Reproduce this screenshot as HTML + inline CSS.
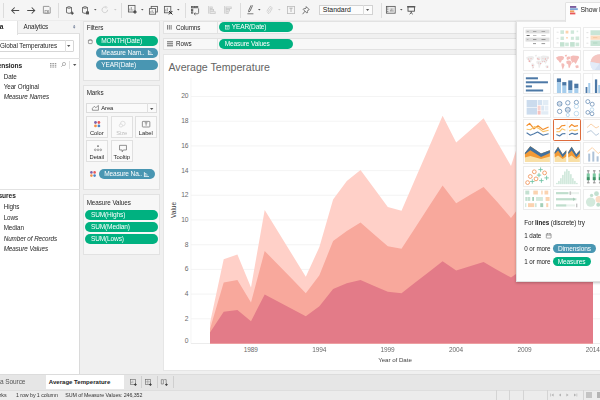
<!DOCTYPE html>
<html>
<head>
<meta charset="utf-8">
<style>
*{box-sizing:border-box;margin:0;padding:0}
html,body{width:600px;height:400px;overflow:hidden;background:#f0f0f0}
body{font-family:"Liberation Sans",sans-serif;font-size:6.3px;letter-spacing:-0.07px;color:#262626;position:relative}
.a{position:absolute}
.t{position:absolute;white-space:nowrap;line-height:8px;height:8px}
.pill{position:absolute;border-radius:5px;color:#fff;white-space:nowrap;line-height:10px;height:10px;font-size:6.55px;letter-spacing:-0.13px}
.g{background:#00b180}
.b{background:#4996b2}
.card{position:absolute;background:#f7f7f7;border:0.6px solid #e2e2e2}
.btn{position:absolute;background:#fafafa;border:0.6px solid #e0e0e0;width:21.5px;height:21.5px}
.btn span{position:absolute;left:0;width:100%;text-align:center;top:12.5px;font-size:5.8px;line-height:7px}
.th{position:absolute;width:27.5px;height:21.2px;background:#fff;border:0.5px solid #ececec;overflow:hidden}
.sep{position:absolute;width:0.6px;background:#d6d6d6}
svg{position:absolute;overflow:visible}
</style>
</head>
<body>
<div id="wrap" style="position:absolute;left:0;top:0;width:600px;height:400px;filter:blur(0.42px)">

<!-- ===== TOOLBAR ===== -->
<div class="a" id="toolbar" style="left:0;top:0;width:600px;height:20.5px;background:#f5f5f5;border-bottom:0.6px solid #ececec"></div>


<!-- toolbar icons -->
<div class="sep" style="left:3px;top:2.5px;height:15px;background:#dcdcdc"></div>
<svg style="left:10.5px;top:6.6px" width="8.4" height="7" viewBox="0 0 8.4 7"><path d="M8.2 3.5 H0.8 M3.7 0.5 L0.7 3.5 L3.7 6.5" fill="none" stroke="#4a4a4a" stroke-width="1.05"/></svg>
<svg style="left:26.6px;top:6.6px" width="8.4" height="7" viewBox="0 0 8.4 7"><path d="M0.2 3.5 H7.6 M4.7 0.5 L7.7 3.5 L4.7 6.5" fill="none" stroke="#4a4a4a" stroke-width="1.05"/></svg>
<svg style="left:43px;top:6.2px" width="7.6" height="7.6" viewBox="0 0 7.6 7.6"><path d="M0.4 0.4 H6 L7.2 1.6 V7.2 H0.4Z" fill="none" stroke="#8a8a8a" stroke-width="0.85"/><rect x="2" y="4.4" width="3.6" height="2.8" fill="none" stroke="#8a8a8a" stroke-width="0.6"/><rect x="3.9" y="5.1" width="1" height="1.6" fill="#8a8a8a"/></svg>
<div class="sep" style="left:58px;top:2.5px;height:15px;background:#dcdcdc"></div>
<svg style="left:65.6px;top:5.6px" width="8" height="9" viewBox="0 0 8 9"><path d="M0.5 1.5 Q3 -0.3 5.5 1.5 V6.6 Q3 8.2 0.5 6.6Z M0.5 1.5 Q3 3.2 5.5 1.5" fill="none" stroke="#5a5a5a" stroke-width="0.85"/><path d="M6.2 5.6 V8.8 M4.6 7.2 H7.8" stroke="#333" stroke-width="0.9"/></svg>
<svg style="left:81.6px;top:5.6px" width="8" height="9" viewBox="0 0 8 9"><path d="M0.5 1.5 Q3 -0.3 5.5 1.5 V6.6 Q3 8.2 0.5 6.6Z M0.5 1.5 Q3 3.2 5.5 1.5" fill="none" stroke="#5a5a5a" stroke-width="0.85"/><rect x="4" y="5.4" width="3" height="3" fill="#555"/></svg>
<svg style="left:93.9px;top:9.4px" width="2.6" height="1.6" viewBox="0 0 2.6 1.6"><path d="M0 0 L2.6 0 L1.3 1.6Z" fill="#5a5a5a"/></svg>
<svg style="left:101px;top:6.2px" width="7.6" height="7.6" viewBox="0 0 7.6 7.6"><path d="M6.6 3.8 A2.8 2.8 0 1 1 5 1.3" fill="none" stroke="#c9c9c9" stroke-width="0.85"/><path d="M4.3 0.3 L6.2 1.2 L4.9 2.8" fill="none" stroke="#c9c9c9" stroke-width="0.6"/></svg>
<svg style="left:113.9px;top:9.4px" width="2.6" height="1.6" viewBox="0 0 2.6 1.6"><path d="M0 0 L2.6 0 L1.3 1.6Z" fill="#c9c9c9"/></svg>
<div class="sep" style="left:121.3px;top:2.5px;height:15px;background:#dcdcdc"></div>
<svg style="left:127.6px;top:5.4px" width="9" height="9" viewBox="0 0 9 9"><rect x="0.4" y="0.4" width="6.6" height="6.6" fill="none" stroke="#5a5a5a" stroke-width="0.85"/><path d="M1.8 5.6 V3.6 M3.3 5.6 V2 M4.8 5.6 V4.4" stroke="#888" stroke-width="0.8"/><path d="M7 5.2 V8.8 M5.2 7 H8.8" stroke="#333" stroke-width="1"/></svg>
<svg style="left:140.89999999999998px;top:9.4px" width="2.6" height="1.6" viewBox="0 0 2.6 1.6"><path d="M0 0 L2.6 0 L1.3 1.6Z" fill="#5a5a5a"/></svg>
<svg style="left:148.8px;top:5.6px" width="9" height="9" viewBox="0 0 9 9"><rect x="2.2" y="0.4" width="6.2" height="5.6" fill="none" stroke="#5a5a5a" stroke-width="0.85"/><rect x="0.4" y="2.6" width="6.2" height="5.6" fill="#f5f5f5" stroke="#5a5a5a" stroke-width="0.85"/><path d="M1.8 6.8 V5.2 M3.2 6.8 V4.2 M4.6 6.8 V5.8" stroke="#888" stroke-width="0.85"/></svg>
<svg style="left:163.6px;top:5.6px" width="9" height="9" viewBox="0 0 9 9"><rect x="0.4" y="0.4" width="6.4" height="6.4" fill="none" stroke="#5a5a5a" stroke-width="0.85"/><path d="M1.8 5.4 V3.4 M3.3 5.4 V1.8" stroke="#888" stroke-width="0.8"/><path d="M5 5 L8.4 8.4 M8.4 5 L5 8.4" stroke="#222" stroke-width="1"/></svg>
<svg style="left:176.89999999999998px;top:9.4px" width="2.6" height="1.6" viewBox="0 0 2.6 1.6"><path d="M0 0 L2.6 0 L1.3 1.6Z" fill="#5a5a5a"/></svg>
<div class="sep" style="left:185px;top:2.5px;height:15px;background:#dcdcdc"></div>
<svg style="left:191px;top:5.6px" width="9" height="9" viewBox="0 0 9 9"><g fill="none" stroke="#5a5a5a" stroke-width="0.8"><rect x="0.4" y="0.4" width="1.6" height="1.4"/><rect x="2.8" y="0.4" width="1.6" height="1.4"/><rect x="5.2" y="0.4" width="1.6" height="1.4"/><rect x="0.4" y="3.2" width="1.4" height="1.4"/><rect x="0.4" y="5.8" width="1.4" height="1.4"/><path d="M7.6 2.4 V6.8 Q7.6 7.8 6.4 7.8 H3.2"/><path d="M4.4 6.6 L3 7.8 L4.4 9"/></g></svg>
<svg style="left:208.2px;top:6px" width="8" height="8" viewBox="0 0 8 8"><g fill="none" stroke="#c9c9c9" stroke-width="0.85"><path d="M0.6 0 V7.6"/><rect x="2" y="1" width="2.2" height="1.6"/><rect x="2" y="3.4" width="3.6" height="1.6"/><rect x="2" y="5.8" width="5.2" height="1.6"/></g></svg>
<svg style="left:224.4px;top:6px" width="8" height="8" viewBox="0 0 8 8"><g fill="none" stroke="#c9c9c9" stroke-width="0.85"><path d="M0.6 0 V7.6"/><rect x="2" y="1" width="5.2" height="1.6"/><rect x="2" y="3.4" width="3.6" height="1.6"/><rect x="2" y="5.8" width="2.2" height="1.6"/></g></svg>
<div class="sep" style="left:240px;top:2.5px;height:15px;background:#dcdcdc"></div>
<svg style="left:247.4px;top:5.4px" width="7" height="9.4" viewBox="0 0 7 9.4"><path d="M5.6 0.4 L3 6.2 L1.8 7 L1.6 5.6 L4.2 0.2" fill="none" stroke="#5a5a5a" stroke-width="0.85"/><path d="M0.4 8.8 H6.4" stroke="#5a5a5a" stroke-width="0.8"/></svg>
<svg style="left:258.3px;top:9.4px" width="2.6" height="1.6" viewBox="0 0 2.6 1.6"><path d="M0 0 L2.6 0 L1.3 1.6Z" fill="#5a5a5a"/></svg>
<svg style="left:266px;top:5.8px" width="6.4" height="8.6" viewBox="0 0 6.4 8.6"><path d="M4.8 2.2 L2 6 Q1.4 7 2.2 7.4 Q3 7.8 3.6 6.8 L5.8 3.2 Q6.6 1.6 5.2 0.8 Q3.8 0.2 3 1.6 L0.8 5.4" fill="none" stroke="#c9c9c9" stroke-width="0.8"/></svg>
<svg style="left:277.9px;top:9.4px" width="2.6" height="1.6" viewBox="0 0 2.6 1.6"><path d="M0 0 L2.6 0 L1.3 1.6Z" fill="#c9c9c9"/></svg>
<svg style="left:286.6px;top:6px" width="8" height="8" viewBox="0 0 8 8"><rect x="0.4" y="0.4" width="7.2" height="7.2" fill="none" stroke="#bcbcbc" stroke-width="0.8"/><path d="M2.4 2.2 H5.6 M4 2.2 V6" stroke="#a6a6a6" stroke-width="0.8" fill="none"/></svg>
<svg style="left:302.4px;top:5.6px" width="8" height="9" viewBox="0 0 8 9"><path d="M4.2 0.6 L7.2 3.6 L6.2 4 L5.4 5.4 L5.6 6.6 L4.8 7 L1.2 3.4 L1.8 2.6 L3 2.8 L4.2 2Z M3 5.2 L0.6 8.2" fill="none" stroke="#5a5a5a" stroke-width="0.8"/></svg>
<!-- Standard dropdown -->
<div class="a" style="left:319.2px;top:4.8px;width:53.4px;height:10.4px;background:#fcfcfc;border:0.6px solid #d2d2d2"></div>
<div class="sep" style="left:362.6px;top:4.8px;height:10.4px;background:#dcdcdc"></div>
<div class="t" style="left:322.8px;top:6px;font-size:6.9px;color:#1a1a1a;letter-spacing:0">Standard</div>
<svg style="left:366.4px;top:9.2px" width="3.2" height="1.9" viewBox="0 0 3.2 1.9"><path d="M0 0 L3.2 0 L1.6 1.9Z" fill="#555"/></svg>
<div class="sep" style="left:381px;top:2.5px;height:15px;background:#dcdcdc"></div>
<svg style="left:386.4px;top:6.2px" width="9.6" height="7.6" viewBox="0 0 9.6 7.6"><rect x="0.4" y="0.4" width="8.8" height="6.8" fill="none" stroke="#5a5a5a" stroke-width="0.85"/><rect x="3.4" y="1.6" width="4.8" height="4.4" fill="#d8d8d8"/><path d="M1.2 2 H2.4 M1.2 3.8 H2.4 M1.2 5.6 H2.4" stroke="#5a5a5a" stroke-width="0.85"/><path d="M4.6 5.4 V3.8 M5.8 5.4 V2.6 M7 5.4 V4.4" stroke="#777" stroke-width="0.6"/></svg>
<svg style="left:399.7px;top:9.4px" width="2.6" height="1.6" viewBox="0 0 2.6 1.6"><path d="M0 0 L2.6 0 L1.3 1.6Z" fill="#5a5a5a"/></svg>
<svg style="left:407.4px;top:5.8px" width="8.4" height="8.6" viewBox="0 0 8.4 8.6"><path d="M0 0.8 H8.4" stroke="#333" stroke-width="0.9"/><rect x="1" y="0.8" width="6.4" height="4.4" fill="none" stroke="#444" stroke-width="0.85"/><path d="M4.2 5.2 V7 M2.6 8.2 L4.2 6.8 L5.8 8.2" fill="none" stroke="#444" stroke-width="0.85"/></svg>
<!-- ===== LEFT DATA PANE ===== -->
<div class="a" id="leftpane" style="left:0;top:20.5px;width:79.5px;height:353px;background:#fff;border-right:0.6px solid #dadada"></div>

<!-- ===== MIDDLE PANE (cards) ===== -->
<div class="a" id="midpane" style="left:80px;top:20.5px;width:81px;height:353px;background:#f0f0f0"></div>


<!-- left pane content -->
<div class="a" style="left:0;top:20.5px;width:79.5px;height:13.4px;background:#f4f4f4;border-bottom:0.6px solid #e0e0e0"></div>
<div class="a" style="left:0;top:20.5px;width:17.5px;height:14px;background:#fff;border-right:0.6px solid #e0e0e0"></div>
<div class="t" style="right:596.6px;top:22.6px;font-weight:bold;color:#1c1c1c;font-size:6.6px">ta</div>
<div class="t" style="left:23.5px;top:22.6px">Analytics</div>
<svg style="left:72.7px;top:24.9px" width="2.4" height="3.6" viewBox="0 0 3 4.4"><path d="M0 1.7 L1.5 0 L3 1.7Z M0 2.7 L1.5 4.4 L3 2.7Z" fill="#5a6a88"/></svg>
<!-- datasource dropdown -->
<div class="a" style="left:-2px;top:40.2px;width:75.6px;height:11.6px;background:#fff;border:0.6px solid #d6d6d6;border-radius:1px"></div>
<div class="sep" style="left:64.8px;top:40.2px;height:11.6px;background:#e0e0e0"></div>
<div class="t" style="left:0;top:42px">Global Temperatures</div>
<svg style="left:67.4px;top:45.2px" width="3.4" height="2" viewBox="0 0 3.4 2"><path d="M0 0 L3.4 0 L1.7 2Z" fill="#555"/></svg>
<!-- dimensions header -->
<div class="a" style="left:0;top:57.5px;width:79.5px;height:0.6px;background:#e2e2e2"></div>
<div class="t" style="right:577.8px;top:61.6px;font-weight:bold;color:#1c1c1c;font-size:6.6px;letter-spacing:-0.05px">mensions</div>
<svg style="left:50.3px;top:62.5px" width="6.4" height="4.6" viewBox="0 0 5.4 4.6" preserveAspectRatio="none"><g fill="#999"><rect x="0" y="0" width="1.3" height="1.1"/><rect x="2" y="0" width="1.3" height="1.1"/><rect x="4" y="0" width="1.3" height="1.1"/><rect x="0" y="1.75" width="1.3" height="1.1"/><rect x="2" y="1.75" width="1.3" height="1.1"/><rect x="4" y="1.75" width="1.3" height="1.1"/><rect x="0" y="3.5" width="1.3" height="1.1"/><rect x="2" y="3.5" width="1.3" height="1.1"/><rect x="4" y="3.5" width="1.3" height="1.1"/></g></svg>
<svg style="left:60.6px;top:62.4px" width="5" height="5" viewBox="0 0 5 5"><circle cx="3" cy="2" r="1.6" fill="none" stroke="#8a8a8a" stroke-width="0.6"/><line x1="1.8" y1="3.2" x2="0.3" y2="4.7" stroke="#8a8a8a" stroke-width="0.7"/></svg>
<div class="sep" style="left:69px;top:61px;height:8px;background:#e0e0e0"></div>
<svg style="left:72.6px;top:64.4px" width="3.4" height="2" viewBox="0 0 3.4 2"><path d="M0 0 L3.4 0 L1.7 2Z" fill="#555"/></svg>
<div class="t" style="left:3.7px;top:72.8px">Date</div>
<div class="t" style="left:3.7px;top:83.2px">Year Original</div>
<div class="t" style="left:3.7px;top:93.4px;font-style:italic">Measure Names</div>
<!-- measures -->
<div class="a" style="left:0;top:189px;width:79.5px;height:0.6px;background:#e2e2e2"></div>
<div class="t" style="right:584.2px;top:192px;font-weight:bold;color:#1c1c1c;font-size:6.6px;letter-spacing:-0.05px">easures</div>
<div class="t" style="left:3.7px;top:203.1px">Highs</div>
<div class="t" style="left:3.7px;top:213.8px">Lows</div>
<div class="t" style="left:3.7px;top:224.3px">Median</div>
<div class="t" style="left:3.7px;top:234.8px;font-style:italic">Number of Records</div>
<div class="t" style="left:3.7px;top:245.2px;font-style:italic">Measure Values</div>

<!-- middle cards -->
<div class="card" style="left:83.3px;top:20.6px;width:76.6px;height:60.6px"></div>
<div class="t" style="left:86.7px;top:24.2px">Filters</div>
<svg style="left:88.4px;top:38.8px" width="4.6" height="5" viewBox="0 0 4.6 5"><rect x="0.4" y="1" width="3.8" height="3.6" rx="0.6" fill="none" stroke="#666" stroke-width="0.6"/><path d="M0.4 1.6 Q2.3 0 4.2 1.6" fill="none" stroke="#666" stroke-width="0.6"/></svg>
<div class="pill g" style="left:96px;top:36.3px;width:62px;padding-left:5.3px">MONTH(Date)</div>
<div class="pill b" style="left:96px;top:47.8px;width:62px;padding-left:5.3px">Measure Nam..</div>
<div class="pill b" style="left:96px;top:59.5px;width:62px;padding-left:5.3px">YEAR(Date)</div>
<svg style="left:147.6px;top:50.3px" width="5" height="5" viewBox="0 0 5 5"><g stroke="#fff" stroke-width="0.7" fill="none"><line x1="0.4" y1="0" x2="0.4" y2="5"/><line x1="0.4" y1="1.6" x2="2.4" y2="1.6"/><line x1="0.4" y1="3" x2="3.6" y2="3"/><line x1="0.4" y1="4.5" x2="5" y2="4.5"/></g></svg>

<div class="card" style="left:83.3px;top:85px;width:76.6px;height:105.2px"></div>
<div class="t" style="left:86.7px;top:89.2px">Marks</div>
<div class="a" style="left:86px;top:103.4px;width:70.5px;height:9.8px;background:#fafafa;border:0.6px solid #dcdcdc"></div>
<div class="sep" style="left:147px;top:103.4px;height:9.8px;background:#e0e0e0"></div>
<svg style="left:91.6px;top:105.4px" width="6.8" height="5.6" viewBox="0 0 6 5"><path d="M0.3 4.7 L0.3 3 L2 1.2 L3.4 2.4 L5.7 0.4 L5.7 4.7Z" fill="none" stroke="#666" stroke-width="0.6"/></svg>
<div class="t" style="left:101.3px;top:104.3px;font-size:5.8px">Area</div>
<svg style="left:150px;top:107.6px" width="3.4" height="2" viewBox="0 0 3.4 2"><path d="M0 0 L3.4 0 L1.7 2Z" fill="#555"/></svg>

<div class="btn" style="left:86px;top:116px"><svg style="left:7.2px;top:3.6px" width="6.4" height="6.4" viewBox="0 0 6 6"><circle cx="1.4" cy="1.4" r="1.3" fill="#7f62a8"/><circle cx="4.6" cy="1.4" r="1.3" fill="#e8575a"/><circle cx="1.4" cy="4.6" r="1.3" fill="#f2904a"/><circle cx="4.6" cy="4.6" r="1.3" fill="#4f86c6"/></svg><span>Color</span></div>
<div class="btn" style="left:111px;top:116px"><svg style="left:7.4px;top:3.6px" width="6.8" height="6.4" viewBox="0 0 6.4 6"><circle cx="3.6" cy="2.4" r="2.2" fill="none" stroke="#d2d2d2" stroke-width="0.6"/><circle cx="1.8" cy="4.2" r="1.5" fill="#fbfbfb" stroke="#d2d2d2" stroke-width="0.6"/></svg><span style="color:#bdbdbd">Size</span></div>
<div class="btn" style="left:135px;top:116px"><svg style="left:6.4px;top:3.6px" width="8.2" height="6.4" viewBox="0 0 7 5.4"><rect x="0.3" y="0.3" width="6.4" height="4.8" rx="0.5" fill="none" stroke="#666" stroke-width="0.6"/><path d="M2.3 1.5 H4.7 M3.5 1.5 V4" stroke="#666" stroke-width="0.6" fill="none"/></svg><span>Label</span></div>
<div class="btn" style="left:86px;top:140px"><svg style="left:6.6px;top:4.4px" width="8" height="6.6" viewBox="0 0 7 6"><circle cx="3.5" cy="1" r="0.8" fill="#666"/><circle cx="1" cy="4.4" r="0.8" fill="none" stroke="#666" stroke-width="0.5"/><circle cx="3.5" cy="4.4" r="0.8" fill="none" stroke="#666" stroke-width="0.5"/><circle cx="6" cy="4.4" r="0.8" fill="none" stroke="#666" stroke-width="0.5"/></svg><span>Detail</span></div>
<div class="btn" style="left:111px;top:140px"><svg style="left:6.6px;top:3.8px" width="8" height="7.4" viewBox="0 0 6.6 6.4"><path d="M0.3 0.3 H6.3 V4.3 H3.6 L2.6 5.9 L2.6 4.3 H0.3Z" fill="none" stroke="#666" stroke-width="0.6"/></svg><span>Tooltip</span></div>

<svg style="left:90.2px;top:171px" width="6" height="6" viewBox="0 0 6 6"><circle cx="1.4" cy="1.4" r="1.3" fill="#7f62a8"/><circle cx="4.6" cy="1.4" r="1.3" fill="#e8575a"/><circle cx="1.4" cy="4.6" r="1.3" fill="#f2904a"/><circle cx="4.6" cy="4.6" r="1.3" fill="#4f86c6"/></svg>
<div class="pill b" style="left:98.7px;top:169px;width:56px;padding-left:5.6px">Measure Na..</div>
<svg style="left:144.4px;top:171.5px" width="5" height="5" viewBox="0 0 5 5"><g stroke="#fff" stroke-width="0.7" fill="none"><line x1="0.4" y1="0" x2="0.4" y2="5"/><line x1="0.4" y1="1.6" x2="2.4" y2="1.6"/><line x1="0.4" y1="3" x2="3.6" y2="3"/><line x1="0.4" y1="4.5" x2="5" y2="4.5"/></g></svg>

<div class="card" style="left:83.3px;top:194px;width:76.6px;height:61.4px"></div>
<div class="t" style="left:86.7px;top:198.7px">Measure Values</div>
<div class="pill g" style="left:85.3px;top:210.2px;width:72.7px;padding-left:5.6px">SUM(Highs)</div>
<div class="pill g" style="left:85.3px;top:222px;width:72.7px;padding-left:5.6px">SUM(Median)</div>
<div class="pill g" style="left:85.3px;top:233.8px;width:72.7px;padding-left:5.6px">SUM(Lows)</div>

<!-- ===== SHELVES + VIEW ===== -->
<div class="a" id="workarea" style="left:161px;top:20.5px;width:439px;height:353px;background:#f0f0f0"></div>


<!-- ===== SHELVES ===== -->
<div class="card" style="left:163.3px;top:20.8px;width:440px;height:12.8px;background:#f8f8f8"></div>
<div class="card" style="left:163.3px;top:37.8px;width:440px;height:12.4px;background:#f8f8f8"></div>
<div class="sep" style="left:217px;top:20.8px;height:12.8px;background:#e2e2e2"></div>
<div class="sep" style="left:217px;top:37.8px;height:12.4px;background:#e2e2e2"></div>
<svg style="left:167.2px;top:24.6px" width="5.4" height="4.6" viewBox="0 0 6 6" preserveAspectRatio="none"><g stroke="#555" stroke-width="0.9"><line x1="0.6" y1="0" x2="0.6" y2="6"/><line x1="2.6" y1="0" x2="2.6" y2="6"/><line x1="4.6" y1="0" x2="4.6" y2="6"/></g></svg>
<svg style="left:166.5px;top:41.3px" width="6" height="6" viewBox="0 0 6 6"><g stroke="#555" stroke-width="0.9"><line y1="0.8" x1="0" y2="0.8" x2="6"/><line y1="2.8" x1="0" y2="2.8" x2="6"/><line y1="4.8" x1="0" y2="4.8" x2="6"/></g></svg>
<div class="t" style="left:176px;top:23.6px">Columns</div>
<div class="t" style="left:176px;top:40.1px">Rows</div>
<div class="pill g" style="left:218.7px;top:22.2px;width:74.6px;height:10px;line-height:10px;padding-left:6px"><svg style="left:6.3px;top:2.6px" width="4.4" height="4.4" viewBox="0 0 4.4 4.4"><rect x="0.3" y="0.3" width="3.8" height="3.8" fill="none" stroke="#fff" stroke-width="0.55"/><line x1="0.3" y1="1.6" x2="4.1" y2="1.6" stroke="#fff" stroke-width="0.5"/><line x1="2.2" y1="1.6" x2="2.2" y2="4.1" stroke="#fff" stroke-width="0.5"/></svg><span style="margin-left:7px">YEAR(Date)</span></div>
<div class="pill g" style="left:218.7px;top:39px;width:74.6px;height:10px;line-height:10px;padding-left:6px">Measure Values</div>

<!-- ===== VIEW ===== -->
<div class="a" style="left:163.3px;top:53.8px;width:440px;height:317.6px;background:#fff;border:0.6px solid #e6e6e6"></div>
<div class="t" style="left:168.5px;top:60px;font-size:10.6px;line-height:14px;height:14px;color:#646464;letter-spacing:0">Average Temperature</div>
<svg style="left:0;top:0" width="600" height="400" viewBox="0 0 600 400">
<line x1="191" x2="600" y1="96.5" y2="96.5" stroke="#efefef" stroke-width="0.7"/><line x1="191" x2="600" y1="121.2" y2="121.2" stroke="#efefef" stroke-width="0.7"/><line x1="191" x2="600" y1="145.9" y2="145.9" stroke="#efefef" stroke-width="0.7"/><line x1="191" x2="600" y1="170.6" y2="170.6" stroke="#efefef" stroke-width="0.7"/><line x1="191" x2="600" y1="195.3" y2="195.3" stroke="#efefef" stroke-width="0.7"/><line x1="191" x2="600" y1="220.0" y2="220.0" stroke="#efefef" stroke-width="0.7"/><line x1="191" x2="600" y1="244.7" y2="244.7" stroke="#efefef" stroke-width="0.7"/><line x1="191" x2="600" y1="269.4" y2="269.4" stroke="#efefef" stroke-width="0.7"/><line x1="191" x2="600" y1="294.1" y2="294.1" stroke="#efefef" stroke-width="0.7"/><line x1="191" x2="600" y1="318.8" y2="318.8" stroke="#efefef" stroke-width="0.7"/>
<line x1="191" x2="600" y1="343.5" y2="343.5" stroke="#e4e4e4" stroke-width="0.7"/>
<line x1="191" x2="191" y1="78" y2="343.5" stroke="#efefef" stroke-width="0.7"/>
<polygon fill="#ffd0c8" points="210.0,343.5 210.0,323.0 223.7,259.2 237.4,254.5 251.0,287.5 264.7,210.0 278.4,232.3 292.1,254.5 305.8,276.8 319.4,247.0 333.1,199.5 346.8,181.0 360.5,170.0 374.2,188.5 387.8,207.0 401.5,210.8 415.2,179.0 428.9,147.5 442.6,115.8 456.2,142.5 469.9,130.4 483.6,118.2 497.3,142.2 511.0,166.0 524.6,124.0 538.3,130.0 552.0,120.0 565.7,125.0 579.4,110.0 593.0,105.0 593.0,343.5"/>
<polygon fill="#f8a89c" points="210.0,343.5 210.0,329.0 223.7,282.5 237.4,280.0 251.0,302.5 264.7,251.0 278.4,265.0 292.1,279.0 305.8,293.2 319.4,275.2 333.1,241.0 346.8,231.0 360.5,222.5 374.2,234.5 387.8,246.2 401.5,248.8 415.2,227.7 428.9,206.6 442.6,185.5 456.2,203.2 469.9,195.0 483.6,187.0 497.3,202.0 511.0,218.0 524.6,200.0 538.3,190.0 552.0,185.0 565.7,190.0 579.4,180.0 593.0,175.0 593.0,343.5"/>
<polygon fill="#e37b88" points="210.0,343.5 210.0,332.4 223.7,311.8 237.4,310.0 251.0,321.2 264.7,294.5 278.4,301.8 292.1,309.0 305.8,316.2 319.4,306.2 333.1,289.0 346.8,283.2 360.5,280.0 374.2,286.0 387.8,291.8 401.5,293.2 415.2,282.6 428.9,272.0 442.6,261.2 456.2,270.5 469.9,266.2 483.6,262.0 497.3,270.0 511.0,277.5 524.6,268.0 538.3,262.0 552.0,258.0 565.7,262.0 579.4,255.0 593.0,250.0 593.0,343.5"/>
</svg>
<style>.ax{color:#6a6a6a;font-size:6.7px;letter-spacing:-0.12px}</style>
<div class="t ax" style="left:168px;width:20.4px;text-align:right;top:92.4px">20</div><div class="t ax" style="left:168px;width:20.4px;text-align:right;top:117.1px">18</div><div class="t ax" style="left:168px;width:20.4px;text-align:right;top:141.8px">16</div><div class="t ax" style="left:168px;width:20.4px;text-align:right;top:166.5px">14</div><div class="t ax" style="left:168px;width:20.4px;text-align:right;top:191.2px">12</div><div class="t ax" style="left:168px;width:20.4px;text-align:right;top:215.9px">10</div><div class="t ax" style="left:168px;width:20.4px;text-align:right;top:240.6px">8</div><div class="t ax" style="left:168px;width:20.4px;text-align:right;top:265.3px">6</div><div class="t ax" style="left:168px;width:20.4px;text-align:right;top:290.0px">4</div><div class="t ax" style="left:168px;width:20.4px;text-align:right;top:314.7px">2</div><div class="t ax" style="left:168px;width:20.4px;text-align:right;top:336.5px">0</div>
<div class="t ax" style="left:238.8px;width:24px;text-align:center;top:346.4px;font-size:6.5px">1989</div><div class="t ax" style="left:307.2px;width:24px;text-align:center;top:346.4px;font-size:6.5px">1994</div><div class="t ax" style="left:375.6px;width:24px;text-align:center;top:346.4px;font-size:6.5px">1999</div><div class="t ax" style="left:444.0px;width:24px;text-align:center;top:346.4px;font-size:6.5px">2004</div><div class="t ax" style="left:512.4px;width:24px;text-align:center;top:346.4px;font-size:6.5px">2009</div><div class="t ax" style="left:580.8px;width:24px;text-align:center;top:346.4px;font-size:6.5px">2014</div>
<div class="t ax" style="left:373px;width:44px;text-align:center;top:355.6px;color:#444;font-size:6.2px;letter-spacing:-0.05px">Year of Date</div>
<div class="t ax" style="left:164px;top:206px;width:20px;text-align:center;transform:rotate(-90deg);transform-origin:50% 50%;color:#444;font-size:6.6px;letter-spacing:-0.05px">Value</div>

<!-- ===== BOTTOM TABS ===== -->
<div class="a" id="tabbar" style="left:0;top:373.5px;width:600px;height:16px;background:#e6e6e6;border-top:0.6px solid #dcdcdc"></div>

<!-- ===== STATUS BAR ===== -->
<div class="a" id="status" style="left:0;top:389.5px;width:600px;height:10.5px;background:#ececec;border-top:0.6px solid #dedede"></div>


<!-- ===== SHOW ME PANEL ===== -->
<div class="a" style="left:516px;top:20.5px;width:90px;height:261px;background:#fdfdfd;border:0.6px solid #e0e0e0;border-top-color:#e8e8e8;box-shadow:0 1px 2.5px rgba(0,0,0,0.25)"></div>
<!-- Show Me button -->
<div class="a" style="left:565px;top:2px;width:40px;height:19.6px;background:#fdfdfd;border:0.6px solid #e2e2e2;border-bottom:none;border-radius:1.5px 0 0 0"></div>
<svg style="left:570.2px;top:5.7px" width="7.8" height="8.4" viewBox="0 0 7 7.6" preserveAspectRatio="none"><rect x="0" y="0" width="5.6" height="1.7" fill="#7b5a9b"/><rect x="0" y="2" width="7" height="1.7" fill="#7fa6d6"/><rect x="0" y="4" width="3.8" height="1.7" fill="#f0a05c"/><rect x="0" y="6" width="4.8" height="1.6" fill="#e8575a"/></svg>
<div class="t" style="left:580.6px;top:6px;font-size:6.8px;color:#1c1c1c;letter-spacing:-0.08px">Show Me</div>


<div class="th" style="left:523.25px;top:27.2px;"><svg style="left:-0.4px;top:-0.6px" width="27" height="20.7" viewBox="0 0 27 20.7"><rect x="1.5" y="1.6" width="24" height="3.9" fill="#dedede"/><rect x="1.5" y="9.6" width="24" height="4" fill="#dedede"/><rect x="2.8" y="3.1" width="2" height="0.9" fill="#b0b0b0"/><rect x="9" y="3.1" width="3.4" height="0.9" fill="#a0a0a0"/><rect x="17.5" y="3.1" width="3.6" height="0.9" fill="#a0a0a0"/><rect x="2.6" y="7.1" width="3" height="0.9" fill="#555"/><rect x="9" y="7.1" width="3.4" height="0.9" fill="#b5b5b5"/><rect x="17.5" y="7.1" width="4" height="0.9" fill="#b5b5b5"/><rect x="2.8" y="11.1" width="1.6" height="0.9" fill="#b0b0b0"/><rect x="9" y="11.1" width="3.4" height="0.9" fill="#8c8c8c"/><rect x="17.5" y="11.1" width="4" height="0.9" fill="#8c8c8c"/><rect x="9" y="15.2" width="3" height="0.9" fill="#8c8c8c"/><rect x="17.5" y="15.2" width="3.6" height="0.9" fill="#8c8c8c"/></svg></div><div class="th" style="left:553.25px;top:27.2px;"><svg style="left:-0.4px;top:-0.6px" width="27" height="20.7" viewBox="0 0 27 20.7"><rect x="6.40" y="2.30" width="3.6" height="3.6" fill="#cfe8da"/><rect x="11.60" y="2.70" width="2.8" height="2.8" fill="#fcd3ae"/><rect x="16.70" y="2.40" width="3.4" height="3.4" fill="#cfe8da"/><rect x="22.60" y="2.60" width="1.6" height="1.6" fill="#dbeee3"/><rect x="6.50" y="8.60" width="3.4" height="3.4" fill="#cfe8da"/><rect x="12.20" y="9.00" width="1.6" height="1.6" fill="#fcd3ae"/><rect x="16.90" y="8.80" width="3" height="3" fill="#cfe8da"/><rect x="21.60" y="8.50" width="3.6" height="3.6" fill="#cfe8da"/><rect x="6.00" y="14.20" width="4.4" height="4.4" fill="#c3e2d1"/><rect x="11.20" y="14.60" width="3.6" height="3.6" fill="#cfe8da"/><rect x="16.10" y="14.10" width="4.6" height="4.6" fill="#c3e2d1"/><rect x="21.60" y="14.60" width="3.6" height="3.6" fill="#cfe8da"/><rect x="2.6" y="3.8" width="2" height="0.7" fill="#d8d8d8"/><rect x="2.6" y="9.9" width="2" height="0.7" fill="#d8d8d8"/><rect x="2.6" y="14.6" width="2" height="0.7" fill="#d8d8d8"/></svg></div><div class="th" style="left:583.25px;top:27.2px;"><svg style="left:-0.4px;top:-0.6px" width="27" height="20.7" viewBox="0 0 27 20.7"><rect x="6.5" y="2.3" width="21" height="5" fill="#c9e5d6"/><rect x="6.5" y="7.6" width="21" height="4.2" fill="#fcdcc0"/><rect x="6.5" y="12.4" width="21" height="5.6" fill="#c9e5d6"/><rect x="2.4" y="4.4" width="2" height="0.7" fill="#d4d4d4"/><rect x="2.4" y="9.4" width="2" height="0.7" fill="#d4d4d4"/><rect x="2.4" y="14.8" width="2" height="0.7" fill="#d4d4d4"/><rect x="9" y="9.3" width="4.4" height="0.8" fill="#f3c49c"/><rect x="9" y="14.6" width="4.4" height="0.8" fill="#a9d3bd"/></svg></div><div class="th" style="left:523.25px;top:50.2px;"><svg style="left:-0.4px;top:-0.6px" width="27" height="20.7" viewBox="0 0 27 20.7"><g transform="translate(0,1)"><path d="M2 5.4 L4.5 4.2 L8 4 L10.2 5 L9.4 7.4 L7.6 8.6 L7 10.4 L5.6 10.6 L4.6 8.8 L3 7.4Z M7.6 11.2 L9.6 11.6 L10.6 13 L9.8 15.2 L8.8 17.8 L8 15.4 L7.4 13Z M10.8 3 L13.2 2.8 L12.4 4.8 L11.2 4.6Z M12.6 5.6 L14 4.6 L15.8 4.4 L16.2 6.8 L14.6 7.6 L13.4 8 L12.6 7Z M12.4 9 L14.4 8.4 L16.4 8.8 L17.8 11 L16.4 13.4 L15.8 15.8 L14.6 15.8 L14.2 12.4 L12.4 11.2Z M16.4 4.4 L19 3.6 L24.4 4 L25.2 5.6 L24 7.6 L22.8 10 L21.6 12 L20.6 10.4 L19.4 10 L18.4 11 L17.4 9 L16.6 7.4Z M21.6 13.4 L24.2 13.2 L24.8 15.4 L22.6 16.2 L21.4 15Z" fill="#ececec"/></g><circle cx="4.5" cy="8" r="0.61" fill="#ee9c9c" opacity="0.75"/><circle cx="7" cy="7.6" r="0.53" fill="#ee9c9c" opacity="0.75"/><circle cx="8.6" cy="14.6" r="0.78" fill="#ee9c9c" opacity="0.75"/><circle cx="9.2" cy="16.4" r="0.49" fill="#ee9c9c" opacity="0.75"/><circle cx="13.8" cy="7.8" r="0.72" fill="#ee9c9c" opacity="0.75"/><circle cx="15" cy="8.4" r="0.63" fill="#ee9c9c" opacity="0.75"/><circle cx="14.6" cy="12" r="0.48" fill="#ee9c9c" opacity="0.75"/><circle cx="16.6" cy="12.6" r="0.70" fill="#ee9c9c" opacity="0.75"/><circle cx="19" cy="7.4" r="0.47" fill="#ee9c9c" opacity="0.75"/><circle cx="21.4" cy="8" r="0.67" fill="#ee9c9c" opacity="0.75"/><circle cx="22.6" cy="9.6" r="0.48" fill="#ee9c9c" opacity="0.75"/><circle cx="20.4" cy="10.4" r="0.50" fill="#ee9c9c" opacity="0.75"/><circle cx="23.4" cy="16" r="0.66" fill="#ee9c9c" opacity="0.75"/><circle cx="5.4" cy="10.2" r="0.86" fill="#ee9c9c" opacity="0.75"/><circle cx="18.2" cy="10.4" r="0.51" fill="#ee9c9c" opacity="0.75"/><circle cx="24" cy="7" r="0.56" fill="#ee9c9c" opacity="0.75"/></svg></div><div class="th" style="left:553.25px;top:50.2px;"><svg style="left:-0.4px;top:-0.6px" width="27" height="20.7" viewBox="0 0 27 20.7"><g transform="translate(0,1)"><path d="M2 5.4 L4.5 4.2 L8 4 L10.2 5 L9.4 7.4 L7.6 8.6 L7 10.4 L5.6 10.6 L4.6 8.8 L3 7.4Z M7.6 11.2 L9.6 11.6 L10.6 13 L9.8 15.2 L8.8 17.8 L8 15.4 L7.4 13Z M10.8 3 L13.2 2.8 L12.4 4.8 L11.2 4.6Z M12.6 5.6 L14 4.6 L15.8 4.4 L16.2 6.8 L14.6 7.6 L13.4 8 L12.6 7Z M12.4 9 L14.4 8.4 L16.4 8.8 L17.8 11 L16.4 13.4 L15.8 15.8 L14.6 15.8 L14.2 12.4 L12.4 11.2Z M16.4 4.4 L19 3.6 L24.4 4 L25.2 5.6 L24 7.6 L22.8 10 L21.6 12 L20.6 10.4 L19.4 10 L18.4 11 L17.4 9 L16.6 7.4Z M21.6 13.4 L24.2 13.2 L24.8 15.4 L22.6 16.2 L21.4 15Z" fill="#f4bcb8"/></g></svg></div><div class="th" style="left:583.25px;top:50.2px;"><svg style="left:-0.4px;top:-0.6px" width="27" height="20.7" viewBox="0 0 27 20.7"><circle cx="15.6" cy="12.4" r="9.2" fill="#d7e2f3"/><path d="M15.6 12.4 L6.5 11 A9.2 9.2 0 0 1 23 7Z" fill="#f5c6c1"/><path d="M15.6 12.4 L6.5 11 A9.2 9.2 0 0 0 10 19.8Z" fill="#e4ecf8"/></svg></div><div class="th" style="left:523.25px;top:73.3px;"><svg style="left:-0.4px;top:-0.6px" width="27" height="20.7" viewBox="0 0 27 20.7"><rect x="1.85" y="3.3" width="12.1" height="2" fill="#4c78a6"/><rect x="1.85" y="7.3" width="22.1" height="2" fill="#4c78a6"/><rect x="1.85" y="11.4" width="6.1" height="2" fill="#4c78a6"/><rect x="1.85" y="15.5" width="17.3" height="2" fill="#4c78a6"/></svg></div><div class="th" style="left:553.25px;top:73.3px;"><svg style="left:-0.4px;top:-0.6px" width="27" height="20.7" viewBox="0 0 27 20.7"><rect x="2.9" y="4.4" width="4.1" height="4.0" fill="#4c78a6"/><rect x="2.9" y="8.4" width="4.1" height="10.6" fill="#a6cdec"/><rect x="8.25" y="8.1" width="4.1" height="3.6" fill="#4c78a6"/><rect x="8.25" y="11.7" width="4.1" height="7.3" fill="#a6cdec"/><rect x="14.25" y="6.4" width="4.1" height="9.7" fill="#4c78a6"/><rect x="14.25" y="16.1" width="4.1" height="2.9" fill="#a6cdec"/><rect x="20.3" y="9.7" width="4.1" height="4.7" fill="#4c78a6"/><rect x="20.3" y="14.4" width="4.1" height="4.6" fill="#a6cdec"/></svg></div><div class="th" style="left:583.25px;top:73.3px;"><svg style="left:-0.4px;top:-0.6px" width="27" height="20.7" viewBox="0 0 27 20.7"><rect x="1.6" y="13" width="1.8" height="7.2" fill="#4c78a6"/><rect x="4.25" y="9" width="2" height="11.2" fill="#a6cdec"/><rect x="10.9" y="5.4" width="2.3" height="14.8" fill="#4c78a6"/><rect x="14.25" y="11" width="2" height="9.2" fill="#a6cdec"/><path d="M8.65 0 V20.7" stroke="#e4e4e4" stroke-width="0.5"/></svg></div><div class="th" style="left:523.25px;top:96.4px;"><svg style="left:-0.4px;top:-0.6px" width="27" height="20.7" viewBox="0 0 27 20.7"><g opacity="0.6"><rect x="2.6" y="3" width="10.4" height="7.4" fill="#a9c4e2"/><rect x="2.6" y="11" width="10.4" height="6.6" fill="#a9c4e2"/><rect x="13.6" y="3" width="4.6" height="5" fill="#b9d0e8"/><rect x="18.8" y="3" width="5.6" height="5" fill="#cfe0f0"/><rect x="13.6" y="8.6" width="3" height="4.4" fill="#f4b6b0"/><rect x="13.6" y="13.6" width="3" height="4" fill="#f09a96"/><rect x="17.2" y="8.6" width="3" height="5" fill="#c3d6ea"/><rect x="20.8" y="8.6" width="3.6" height="5" fill="#d6e4f2"/><rect x="17.2" y="14.2" width="7.2" height="3.4" fill="#cfe0f0"/></g></svg></div><div class="th" style="left:553.25px;top:96.4px;"><svg style="left:-0.4px;top:-0.6px" width="27" height="20.7" viewBox="0 0 27 20.7"><circle cx="5.6" cy="6.8" r="2.4" fill="none" stroke="#4e79a7" stroke-width="0.65"/><circle cx="5.6" cy="14.4" r="2.2" fill="none" stroke="#4e79a7" stroke-width="0.65"/><circle cx="13.8" cy="5.8" r="2.2" fill="none" stroke="#4e79a7" stroke-width="0.65"/><circle cx="13.8" cy="12.8" r="2.5" fill="none" stroke="#4e79a7" stroke-width="0.65"/><circle cx="13.8" cy="18" r="1.6" fill="none" stroke="#a0cbe8" stroke-width="0.65"/><circle cx="22.4" cy="5.4" r="2.1" fill="none" stroke="#4e79a7" stroke-width="0.65"/><circle cx="22.4" cy="9.4" r="2.1" fill="none" stroke="#a0cbe8" stroke-width="0.65"/><circle cx="22.4" cy="16.6" r="2.3" fill="none" stroke="#a0cbe8" stroke-width="0.65"/><path d="M3.4 6 H7.8 M3.4 7.8 H7.8 M11.5 12 H16.1 M11.5 13.8 H16.1" stroke="#4e79a7" stroke-width="0.45"/></svg></div><div class="th" style="left:583.25px;top:96.4px;"><svg style="left:-0.4px;top:-0.6px" width="27" height="20.7" viewBox="0 0 27 20.7"><circle cx="3.8" cy="4.6" r="2" fill="none" stroke="#4e79a7" stroke-width="0.65"/><circle cx="8.2" cy="7.2" r="2" fill="none" stroke="#4e79a7" stroke-width="0.65"/><circle cx="8" cy="12.6" r="1.8" fill="none" stroke="#a0cbe8" stroke-width="0.65"/><circle cx="3.8" cy="15.4" r="1.9" fill="none" stroke="#4e79a7" stroke-width="0.65"/><circle cx="8" cy="16.8" r="1.9" fill="none" stroke="#4e79a7" stroke-width="0.65"/></svg></div><div class="th" style="left:523.25px;top:119.4px;"><svg style="left:-0.4px;top:-0.6px" width="27" height="20.7" viewBox="0 0 27 20.7"><path d="M2.6 5.8 L5.6 3.4 L10 8.8 L14 5.8 L19 9.6 L24.6 7" fill="none" stroke="#f28e2b" stroke-width="1.15" stroke-linejoin="round"/><path d="M2.6 9.2 L6.4 9.8 L10.4 6.6 L14.6 8.2 L19 11.6 L24.6 10.2" fill="none" stroke="#f8c46a" stroke-width="1.15" stroke-linejoin="round"/><path d="M2.6 12.8 L6.4 15.2 L10 13.8 L13.6 12 L19 15.2 L24.6 13.8" fill="none" stroke="#4e79a7" stroke-width="1.15" stroke-linejoin="round"/></svg></div><div class="th" style="left:553.25px;top:119.4px;border:1.3px solid #dd6b3c;border-radius:1.2px;"><svg style="left:-0.4px;top:-0.6px" width="27" height="20.7" viewBox="0 0 27 20.7"><path d="M2.4 8.8 L5 8.6 L7.6 5.8 L11.4 5.4 M15 7.4 L17.6 4.6 L20.6 6.4 L24 5.6" fill="none" stroke="#f28e2b" stroke-width="1.15" stroke-linejoin="round"/><path d="M2.4 11.6 L5.4 11.8 L8 8.8 L11.4 10.2 M15 11 L18 9.8 L21 10.6 L24 9.6" fill="none" stroke="#f8c46a" stroke-width="1.15" stroke-linejoin="round"/><path d="M2.4 14.6 L5.6 16 L8.4 13.8 L11.4 13.6 M15 14.8 L18 13.2 L21 14.4 L24 13.4" fill="none" stroke="#4e79a7" stroke-width="1.15" stroke-linejoin="round"/><path d="M13.2 1 V19" stroke="#e6e6e6" stroke-width="0.4"/></svg></div><div class="th" style="left:583.25px;top:119.4px;"><svg style="left:-0.4px;top:-0.6px" width="27" height="20.7" viewBox="0 0 27 20.7"><g opacity="0.4"><path d="M3 7.6 L7 4 L12 8 L15 6.4" fill="none" stroke="#f28e2b" stroke-width="1"/><path d="M3 12.4 L7 10.6 L12 15.4 L15 13.4" fill="none" stroke="#4e79a7" stroke-width="1"/></g></svg></div><div class="th" style="left:523.25px;top:142.4px;"><svg style="left:-0.4px;top:-0.6px" width="27" height="20.7" viewBox="0 0 27 20.7"><path d="M0.9 19 V10 L6.3 3.3 L17 10.6 L25.9 7.3 V19Z" fill="#f8dfa6"/><path d="M0.9 14.6 V10 L6.3 3.3 L17 10.6 L25.9 7.3 V13.6 L17 16 L6.3 13Z" fill="#f29a35"/><path d="M0.9 11.3 V10 L6.3 3.3 L17 10.6 L25.9 7.3 V10 L17 14 L6.3 7.3Z" fill="#41719f"/></svg></div><div class="th" style="left:553.25px;top:142.4px;"><svg style="left:-0.4px;top:-0.6px" width="27" height="20.7" viewBox="0 0 27 20.7"><path d="M0.65 19 V9.3 L4.05 3.7 L8.65 11.3 L12.25 7.3 V19Z" fill="#f8dfa6"/><path d="M0.65 14.4 V9.3 L4.05 3.7 L8.65 11.3 L12.25 7.3 V13.4 L8.65 16 L4.05 12.6Z" fill="#f29a35"/><path d="M0.65 11 V9.3 L4.05 3.7 L8.65 11.3 L12.25 7.3 V10 L8.65 14.2 L4.05 7.6Z" fill="#41719f"/><path d="M14.25 19 V9.3 L17.65 3.7 L22.25 11.3 L25.85 7.3 V19Z" fill="#f8dfa6"/><path d="M14.25 14.4 V9.3 L17.65 3.7 L22.25 11.3 L25.85 7.3 V13.4 L22.25 16 L17.65 12.6Z" fill="#f29a35"/><path d="M14.25 11 V9.3 L17.65 3.7 L22.25 11.3 L25.85 7.3 V10 L22.25 14.2 L17.65 7.6Z" fill="#41719f"/></svg></div><div class="th" style="left:583.25px;top:142.4px;"><svg style="left:-0.4px;top:-0.6px" width="27" height="20.7" viewBox="0 0 27 20.7"><g opacity="0.45"><rect x="4.2" y="10.6" width="2" height="8.000000000000002" fill="#4e79a7"/><rect x="8.3" y="8.6" width="2" height="10.000000000000002" fill="#4e79a7"/><rect x="12.6" y="13.3" width="2" height="5.300000000000001" fill="#4e79a7"/><path d="M3.6 8.6 L8.25 4.6 L14.25 10.6 L17 8" fill="none" stroke="#f28e2b" stroke-width="0.9"/></g></svg></div><div class="th" style="left:523.25px;top:165.5px;"><svg style="left:-0.4px;top:-0.6px" width="27" height="20.7" viewBox="0 0 27 20.7"><circle cx="10.3" cy="5.8" r="1.9" fill="none" stroke="#f0935a" stroke-width="0.85"/><circle cx="20.6" cy="6.9" r="1.9" fill="none" stroke="#f0935a" stroke-width="0.85"/><circle cx="6.3" cy="10.5" r="1.9" fill="none" stroke="#f0935a" stroke-width="0.85"/><circle cx="12" cy="12.9" r="1.9" fill="none" stroke="#f0935a" stroke-width="0.85"/><circle cx="3.6" cy="16.6" r="1.9" fill="none" stroke="#f0935a" stroke-width="0.85"/><path d="M14.400000000000002 3.6 H18.8 M16.6 1.4 V5.800000000000001" stroke="#6fc3a4" stroke-width="0.85"/><path d="M12.8 9.1 H17.2 M15 6.8999999999999995 V11.3" stroke="#6fc3a4" stroke-width="0.85"/><path d="M20.400000000000002 11.9 H24.8 M22.6 9.7 V14.100000000000001" stroke="#6fc3a4" stroke-width="0.85"/><path d="M15.2 14.6 H19.599999999999998 M17.4 12.399999999999999 V16.8" stroke="#6fc3a4" stroke-width="0.85"/><path d="M6.1000000000000005 15.5 H10.5 M8.3 13.3 V17.7" stroke="#6fc3a4" stroke-width="0.85"/></svg></div><div class="th" style="left:553.25px;top:165.5px;"><svg style="left:-0.4px;top:-0.6px" width="27" height="20.7" viewBox="0 0 27 20.7"><rect x="2.25" y="16.9" width="1.3" height="1.3" fill="#c4e2d2"/><rect x="4.25" y="14.9" width="1.3" height="3.3" fill="#c4e2d2"/><rect x="6.25" y="12.2" width="1.3" height="6" fill="#c4e2d2"/><rect x="8.25" y="8.9" width="1.3" height="9.3" fill="#c4e2d2"/><rect x="10.25" y="5.5" width="1.3" height="12.7" fill="#c4e2d2"/><rect x="12.25" y="3.2" width="1.3" height="15" fill="#c4e2d2"/><rect x="14.25" y="4.9" width="1.3" height="13.3" fill="#c4e2d2"/><rect x="16.25" y="8.2" width="1.3" height="10" fill="#c4e2d2"/><rect x="18.25" y="12.2" width="1.3" height="6" fill="#c4e2d2"/><rect x="20.25" y="14.9" width="1.3" height="3.3" fill="#c4e2d2"/><rect x="22.25" y="16.9" width="1.3" height="1.3" fill="#c4e2d2"/></svg></div><div class="th" style="left:583.25px;top:165.5px;"><svg style="left:-0.4px;top:-0.6px" width="27" height="20.7" viewBox="0 0 27 20.7"><path d="M4.25 4.6 V16.9" stroke="#8a8a8a" stroke-width="0.9"/><rect x="2.75" y="7.5" width="3" height="3.6" fill="#7cc7a0"/><rect x="2.75" y="11.1" width="3" height="3.1" fill="#3f9468"/><rect x="2.95" y="4.2" width="2.6" height="1.2" fill="#9a9a9a"/><rect x="2.95" y="16.2" width="2.6" height="1.2" fill="#9a9a9a"/><path d="M10.25 4.6 V16.9" stroke="#8a8a8a" stroke-width="0.9"/><rect x="8.75" y="7.5" width="3" height="3.6" fill="#7cc7a0"/><rect x="8.75" y="11.1" width="3" height="3.1" fill="#3f9468"/><rect x="8.95" y="4.2" width="2.6" height="1.2" fill="#9a9a9a"/><rect x="8.95" y="16.2" width="2.6" height="1.2" fill="#9a9a9a"/><path d="M16.2 4.6 V16.9" stroke="#8a8a8a" stroke-width="0.9"/><rect x="14.7" y="7.5" width="3" height="3.6" fill="#7cc7a0"/><rect x="14.7" y="11.1" width="3" height="3.1" fill="#3f9468"/><rect x="14.899999999999999" y="4.2" width="2.6" height="1.2" fill="#9a9a9a"/><rect x="14.899999999999999" y="16.2" width="2.6" height="1.2" fill="#9a9a9a"/></svg></div><div class="th" style="left:523.25px;top:188.6px;"><svg style="left:-0.4px;top:-0.6px" width="27" height="20.7" viewBox="0 0 27 20.7"><rect x="1.3" y="1.6" width="4.00" height="3.9" fill="#c3e0d0"/><rect x="9.3" y="1.6" width="4.55" height="3.9" fill="#fbd3b0"/><rect x="17.3" y="1.6" width="1.35" height="3.9" fill="#fbd3b0"/><rect x="20.5" y="1.6" width="3.75" height="3.9" fill="#fbd3b0"/><rect x="1.3" y="8" width="2.30" height="3.9" fill="#c3e0d0"/><rect x="4" y="8" width="2.25" height="3.9" fill="#c3e0d0"/><rect x="8.25" y="8" width="1.75" height="3.9" fill="#a3cfb8"/><rect x="12" y="8" width="6.90" height="3.9" fill="#d3e9dc"/><rect x="21.6" y="8" width="4.00" height="3.9" fill="#fbd3b0"/><rect x="1.3" y="14.2" width="0.95" height="3.9" fill="#c3e0d0"/><rect x="4" y="14.2" width="6.25" height="3.9" fill="#fbd3b0"/><rect x="11.2" y="14.2" width="1.30" height="3.9" fill="#c3e0d0"/><rect x="16.25" y="14.2" width="2.95" height="3.9" fill="#a3cfb8"/><rect x="22.25" y="14.2" width="2.00" height="3.9" fill="#fbd3b0"/></svg></div><div class="th" style="left:553.25px;top:188.6px;"><svg style="left:-0.4px;top:-0.6px" width="27" height="20.7" viewBox="0 0 27 20.7"><rect x="2" y="3.1" width="23" height="2.1" fill="#eaf3ee"/><rect x="2" y="3.1" width="12.25" height="2.1" fill="#bfdecd"/><rect x="2" y="9.2" width="21" height="2.1" fill="#eaf3ee"/><rect x="2" y="9.2" width="19.6" height="2.1" fill="#bfdecd"/><rect x="2" y="15.4" width="19" height="2.1" fill="#eaf3ee"/><rect x="2" y="15.4" width="10.25" height="2.1" fill="#bfdecd"/><rect x="15.6" y="2.4" width="1.5" height="3.5" fill="#c4c4c4"/><path d="M19 8.6 L21.4 10.25 L19 11.9Z" fill="#a9cdb9"/><rect x="22.5" y="14.6" width="0.7" height="3.7" fill="#8a8a8a"/></svg></div><div class="th" style="left:583.25px;top:188.6px;"><svg style="left:-0.4px;top:-0.6px" width="27" height="20.7" viewBox="0 0 27 20.7"><circle cx="6.65" cy="13.1" r="4.7" fill="#d3e9dc"/><circle cx="12.5" cy="4.7" r="2.4" fill="#c3e0d0"/><circle cx="7.6" cy="6.4" r="1.7" fill="#c3e0d0"/><circle cx="14.9" cy="10.4" r="3.3" fill="#fbdcc6"/><circle cx="14.25" cy="15.8" r="2" fill="#bcdccb"/></svg></div>
<div class="t" style="left:524.2px;top:218.6px;color:#222">For <b>lines</b> (discrete) try</div>
<div class="t" style="left:524.2px;top:231.6px;color:#222">1 date</div>
<svg style="left:545.6px;top:233px" width="5.4" height="5.4" viewBox="0 0 5.4 5.4"><rect x="0.3" y="0.8" width="4.8" height="4.3" rx="0.4" fill="none" stroke="#666" stroke-width="0.55"/><path d="M0.3 2.1 H5.1 M1.5 0 V1.4 M3.9 0 V1.4" stroke="#666" stroke-width="0.55"/></svg>
<div class="t" style="left:524.2px;top:244.9px;color:#222">0 or more</div>
<div class="pill b" style="left:552.5px;top:243.7px;width:43.8px;height:9.3px;line-height:9.3px;text-align:center">Dimensions</div>
<div class="t" style="left:524.2px;top:257.9px;color:#222">1 or more</div>
<div class="pill g" style="left:552.5px;top:256.7px;width:38px;height:9.3px;line-height:9.3px;text-align:center">Measures</div>

<!-- bottom tab content -->
<div class="t" style="right:574.6px;top:378px;color:#555;font-size:6.5px">Data Source</div>
<div class="a" style="left:46px;top:375.2px;width:78px;height:14.3px;background:#fff"></div>
<div class="t" style="left:48.8px;top:378px;font-weight:bold;font-size:6.05px;color:#1c1c1c;letter-spacing:0">Average Temperature</div>
<div class="sep" style="left:140.5px;top:376px;height:12px;background:#cfcfcf"></div>
<div class="sep" style="left:157.3px;top:376px;height:12px;background:#cfcfcf"></div>
<div class="sep" style="left:172.5px;top:376px;height:12px;background:#cfcfcf"></div>
<svg style="left:129.6px;top:379px" width="7" height="7" viewBox="0 0 7 7"><rect x="0.3" y="0.3" width="5" height="5" fill="none" stroke="#666" stroke-width="0.6"/><path d="M1.6 4.2 V2.6 M2.8 4.2 V1.6" stroke="#999" stroke-width="0.6"/><path d="M5.4 4.2 V7 M4 5.6 H6.8" stroke="#333" stroke-width="0.8"/></svg>
<svg style="left:145.4px;top:379px" width="7" height="7" viewBox="0 0 7 7"><rect x="0.3" y="0.3" width="5" height="5" fill="none" stroke="#666" stroke-width="0.6"/><path d="M2.8 0.3 V5.3 M0.3 2.8 H5.3" stroke="#888" stroke-width="0.5"/><path d="M5.4 4.2 V7 M4 5.6 H6.8" stroke="#333" stroke-width="0.8"/></svg>
<svg style="left:161.4px;top:379px" width="7" height="7" viewBox="0 0 7 7"><path d="M0.3 0.6 H2.4 V5 H0.3Z M3.2 0.6 H5.2 V4" fill="none" stroke="#666" stroke-width="0.6"/><path d="M5.4 4.2 V7 M4 5.6 H6.8" stroke="#333" stroke-width="0.8"/></svg>
<!-- status -->
<div class="t" style="left:-0.4px;top:391px;font-size:5.3px;color:#333">rks</div>
<div class="t" style="left:16px;top:391px;font-size:5.3px;color:#333">1 row by 1 column</div>
<div class="t" style="left:65.3px;top:391px;font-size:5.3px;color:#333">SUM of Measure Values: 246,352</div>
<div class="sep" style="left:495.5px;top:390px;height:10px;background:#d4d4d4"></div>
<div class="sep" style="left:509.3px;top:390px;height:10px;background:#d4d4d4"></div>
<div class="sep" style="left:522.7px;top:390px;height:10px;background:#d4d4d4"></div>
<div class="sep" style="left:546.7px;top:390px;height:10px;background:#d4d4d4"></div>
<div class="sep" style="left:582.7px;top:390px;height:10px;background:#d4d4d4"></div>
<svg style="left:550px;top:393px" width="28" height="4" viewBox="0 0 28 4"><g fill="#b4b4b4"><path d="M0.4 0.4 H1 V3.6 H0.4Z M3.6 0.4 L1.4 2 L3.6 3.6Z"/><path d="M11 0.4 L8.8 2 L11 3.6Z"/><path d="M16.4 0.4 L18.6 2 L16.4 3.6Z"/><path d="M24 0.4 L26.2 2 L24 3.6Z M26.6 0.4 H27.2 V3.6 H26.6Z"/></g></svg>
<div class="a" style="left:586.4px;top:392.2px;width:5.4px;height:5.4px;background:#c4c4c4"></div>
<div class="a" style="left:596.6px;top:392.2px;width:5.4px;height:5.4px;background:#b4b4b4"></div>

</div>
</body>
</html>
